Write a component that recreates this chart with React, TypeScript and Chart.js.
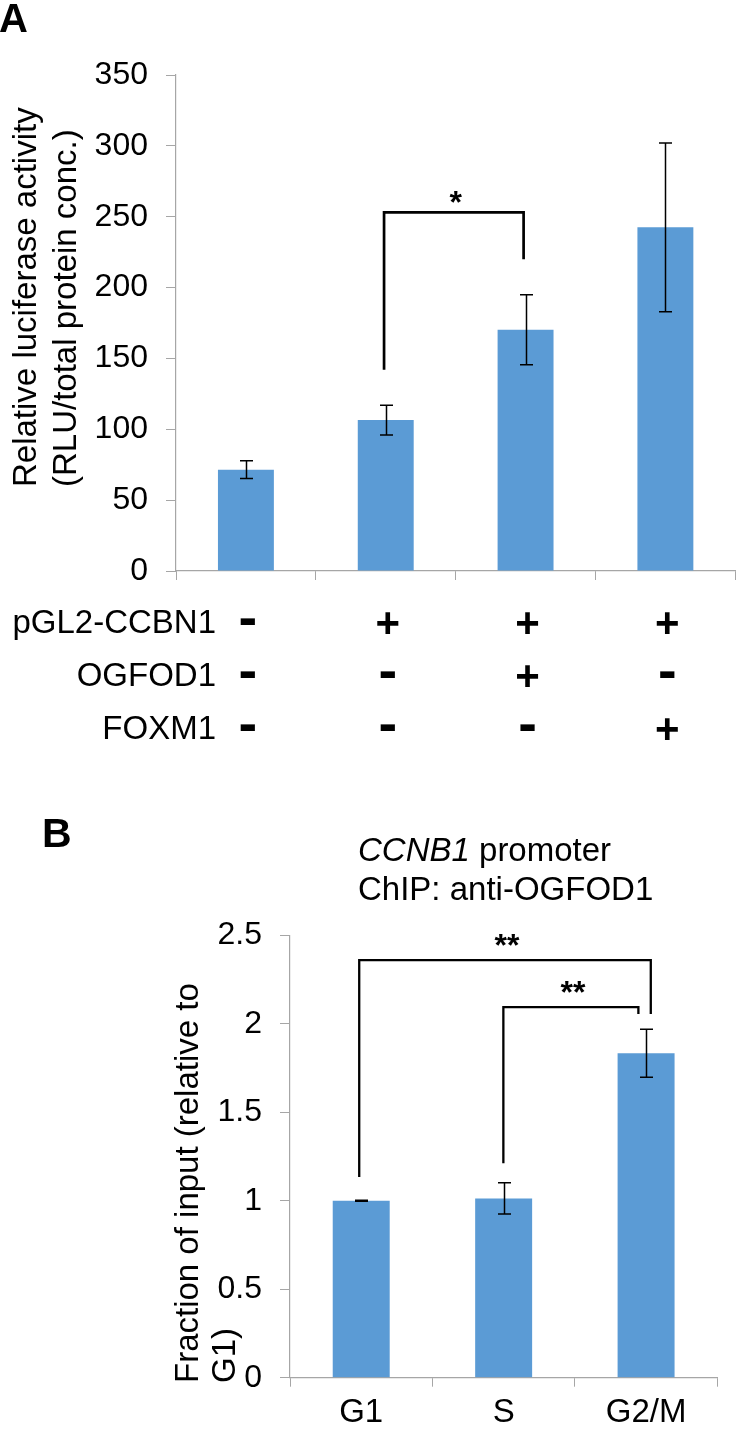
import React, { useEffect, useRef } from 'react';
import { Chart, registerables } from 'chart.js';

Chart.register(...registerables);

const FONT = "'Liberation Sans', Arial, Helvetica, sans-serif";
const BAR = '#5b9bd5';
const AXIS = '#a6a6a6';

// ---------- Panel A ----------
const conditionsA = ['1', '2', '3', '4'];
const valuesA = [71.5, 106.5, 170.2, 242.5];
const errorsA = [6.3, 10.5, 24.7, 59.5];
const ticksA = [0, 50, 100, 150, 200, 250, 300, 350];
const rowLabelsA = ['pGL2-CCBN1', 'OGFOD1', 'FOXM1'];
const pGL2Signs = ['-', '+', '+', '+'];
const ogfod1Signs = ['-', '-', '+', '-'];
const foxm1Signs = ['-', '-', '-', '+'];
const yTitleA = ['Relative luciferase activity', '(RLU/total protein conc.)'];
const sigA = [{ from: 0.988, to: 1.986, top: 253, fromEnd: 142, toEnd: 220, label: '*' }];

// ---------- Panel B ----------
const categoriesB = ['G1', 'S', 'G2/M'];
const valuesB = [1.0, 1.013, 1.833];
const errorsB = [0.003, 0.088, 0.135];
const ticksB = [0, 0.5, 1, 1.5, 2, 2.5];
const yTitleB = ['Fraction of input (relative to', 'G1)'];
const titleB = { italic: 'CCNB1', rest: ' promoter', line2: 'ChIP: anti-OGFOD1' };
const sigB = [
  { from: -0.014, to: 2.033, top: 2.359, fromEnd: 1.134, toEnd: 2.055, label: '**' },
  { from: 0.998, to: 1.946, top: 2.094, fromEnd: 1.212, toEnd: 2.055, label: '**' },
];

function rotatedText(ctx: CanvasRenderingContext2D, text: string, x: number, y: number, font: string) {
  ctx.save();
  ctx.translate(x, y);
  ctx.rotate(-Math.PI / 2);
  ctx.font = font;
  ctx.fillStyle = '#000';
  ctx.textAlign = 'left';
  ctx.textBaseline = 'alphabetic';
  ctx.fillText(text, 0, 0);
  ctx.restore();
}

function drawErrorBars(chart: any, values: number[], errors: number[], cap: number) {
  const ctx = chart.ctx as CanvasRenderingContext2D;
  const xs = chart.scales.x;
  const ys = chart.scales.y;
  ctx.save();
  ctx.strokeStyle = '#000';
  ctx.lineWidth = 1.5;
  values.forEach((v, i) => {
    const x = Math.round(xs.getPixelForValue(i)) + 0.5;
    const yt = ys.getPixelForValue(v + errors[i]);
    const yb = ys.getPixelForValue(v - errors[i]);
    ctx.beginPath();
    ctx.moveTo(x, yt);
    ctx.lineTo(x, yb);
    ctx.moveTo(x - cap, yt);
    ctx.lineTo(x + cap, yt);
    ctx.moveTo(x - cap, yb);
    ctx.lineTo(x + cap, yb);
    ctx.stroke();
  });
  ctx.restore();
}

function drawBrackets(chart: any, sigs: any[], lw: number, starSize: number, gap: number) {
  const ctx = chart.ctx as CanvasRenderingContext2D;
  const xs = chart.scales.x;
  const ys = chart.scales.y;
  ctx.save();
  ctx.strokeStyle = '#000';
  ctx.fillStyle = '#000';
  ctx.lineWidth = lw;
  ctx.lineJoin = 'miter';
  sigs.forEach((s) => {
    const x1 = xs.getPixelForValue(s.from);
    const x2 = xs.getPixelForValue(s.to);
    const yTop = ys.getPixelForValue(s.top);
    ctx.beginPath();
    ctx.moveTo(x1, ys.getPixelForValue(s.fromEnd));
    ctx.lineTo(x1, yTop);
    ctx.lineTo(x2, yTop);
    ctx.lineTo(x2, ys.getPixelForValue(s.toEnd));
    ctx.stroke();
    ctx.font = `bold ${starSize}px ${FONT}`;
    ctx.textAlign = 'center';
    ctx.textBaseline = 'alphabetic';
    // asterisk glyph centre sits ~0.57em above the baseline
    ctx.fillText(s.label, (x1 + x2) / 2 + 2, yTop - gap + 0.57 * starSize);
  });
  ctx.restore();
}

const pluginA = {
  id: 'panelA',
  afterDatasetsDraw(chart: any) {
    const ctx = chart.ctx as CanvasRenderingContext2D;
    drawErrorBars(chart, valuesA, errorsA, 6.5);
    drawBrackets(chart, sigA, 2.7, 32, 18);
    const xs = chart.scales.x;
    ctx.save();
    ctx.fillStyle = '#000';
    // panel letter
    ctx.font = `bold 40px ${FONT}`;
    ctx.textAlign = 'left';
    ctx.textBaseline = 'alphabetic';
    ctx.fillText('A', -1, 32);
    // y title
    rotatedText(ctx, yTitleA[0], 36, 487, `33px ${FONT}`);
    rotatedText(ctx, yTitleA[1], 76, 487, `33px ${FONT}`);
    // row labels and signs
    const rows = [pGL2Signs, ogfod1Signs, foxm1Signs];
    const rowCenters = [621, 674, 727];
    rows.forEach((signs, r) => {
      const cy = rowCenters[r];
      ctx.font = `33px ${FONT}`;
      ctx.textAlign = 'right';
      ctx.fillText(rowLabelsA[r], 216, cy + 11.8);
      signs.forEach((s, i) => {
        const x = xs.getPixelForValue(i) + 2;
        ctx.textAlign = 'center';
        if (s === '+') {
          ctx.font = `bold 42px ${FONT}`;
          ctx.fillText('+', x, cy + 0.33 * 42 + 2);
        } else {
          ctx.font = `bold 56px ${FONT}`;
          ctx.fillText('-', x, cy + 0.26 * 56);
        }
      });
    });
    ctx.restore();
  },
};

const pluginB = {
  id: 'panelB',
  afterDatasetsDraw(chart: any) {
    const ctx = chart.ctx as CanvasRenderingContext2D;
    drawErrorBars(chart, valuesB, errorsB, 6.5);
    drawBrackets(chart, sigB, 2.3, 32, 22);
    ctx.save();
    ctx.fillStyle = '#000';
    ctx.textAlign = 'left';
    ctx.textBaseline = 'alphabetic';
    ctx.font = `bold 41px ${FONT}`;
    ctx.fillText('B', 42, 67);
    // title
    ctx.font = `italic 33px ${FONT}`;
    ctx.fillText(titleB.italic, 358, 80.5);
    const w = ctx.measureText(titleB.italic).width;
    ctx.font = `33px ${FONT}`;
    ctx.fillText(titleB.rest, 358 + w, 80.5);
    ctx.fillText(titleB.line2, 358, 119.5);
    // y title
    rotatedText(ctx, yTitleB[0], 198, 603, `33px ${FONT}`);
    rotatedText(ctx, yTitleB[1], 235, 603, `33px ${FONT}`);
    ctx.restore();
  },
};

function makeOptions(cfg: {
  padTop: number; padRight: number; yWidth: number; xHeight: number;
  ticks: number[]; showX: boolean;
}) {
  return {
    responsive: false,
    animation: false as const,
    events: [] as any[],
    layout: { padding: { left: 0, top: cfg.padTop, right: cfg.padRight, bottom: 0 } },
    plugins: { legend: { display: false }, tooltip: { enabled: false }, title: { display: false } },
    scales: {
      x: {
        type: 'category' as const,
        offset: true,
        grid: { offset: true, drawOnChartArea: false, drawTicks: true, tickLength: 9, color: AXIS, lineWidth: 1 },
        border: { display: true, color: AXIS, width: 1.2 },
        ticks: { display: cfg.showX, color: '#000', font: { family: FONT, size: 33 }, padding: 6, maxRotation: 0, autoSkip: false },
        afterFit: (s: any) => { s.height = cfg.xHeight; },
      },
      y: {
        type: 'linear' as const,
        min: cfg.ticks[0],
        max: cfg.ticks[cfg.ticks.length - 1],
        afterBuildTicks: (s: any) => { s.ticks = cfg.ticks.map((v) => ({ value: v })); },
        grid: { drawOnChartArea: false, drawTicks: true, tickLength: 10, color: AXIS, lineWidth: 1 },
        border: { display: true, color: AXIS, width: 1.2 },
        ticks: { color: '#000', font: { family: FONT, size: 32 }, padding: 18, callback: (v: any) => String(v) },
        afterFit: (s: any) => { s.width = cfg.yWidth; },
      },
    },
  };
}

function ChartA() {
  const ref = useRef<HTMLCanvasElement>(null);
  useEffect(() => {
    const chart = new Chart(ref.current!, {
      type: 'bar',
      data: {
        labels: conditionsA,
        datasets: [{ data: valuesA, backgroundColor: BAR, borderWidth: 0, barPercentage: 0.4, categoryPercentage: 1 }],
      },
      options: makeOptions({ padTop: 75, padRight: 1.7, yWidth: 176, xHeight: 209, ticks: ticksA, showX: false }) as any,
      plugins: [pluginA],
    });
    return () => chart.destroy();
  }, []);
  return <canvas ref={ref} width={737} height={780} style={{ position: 'absolute', left: 0, top: 0, display: 'block' }} />;
}

function ChartB() {
  const ref = useRef<HTMLCanvasElement>(null);
  useEffect(() => {
    const chart = new Chart(ref.current!, {
      type: 'bar',
      data: {
        labels: categoriesB,
        datasets: [{ data: valuesB, backgroundColor: BAR, borderWidth: 0, barPercentage: 0.4, categoryPercentage: 1 }],
      },
      options: makeOptions({ padTop: 155.2, padRight: 19.7, yWidth: 290, xHeight: 51.3, ticks: ticksB, showX: true }) as any,
      plugins: [pluginB],
    });
    return () => chart.destroy();
  }, []);
  return <canvas ref={ref} width={737} height={649} style={{ position: 'absolute', left: 0, top: 780, display: 'block' }} />;
}

export default function App() {
  return (
    <div style={{ position: 'absolute', left: 0, top: 0, width: 737, height: 1429, background: '#fff', overflow: 'hidden' }}>
      <ChartA />
      <ChartB />
    </div>
  );
}
